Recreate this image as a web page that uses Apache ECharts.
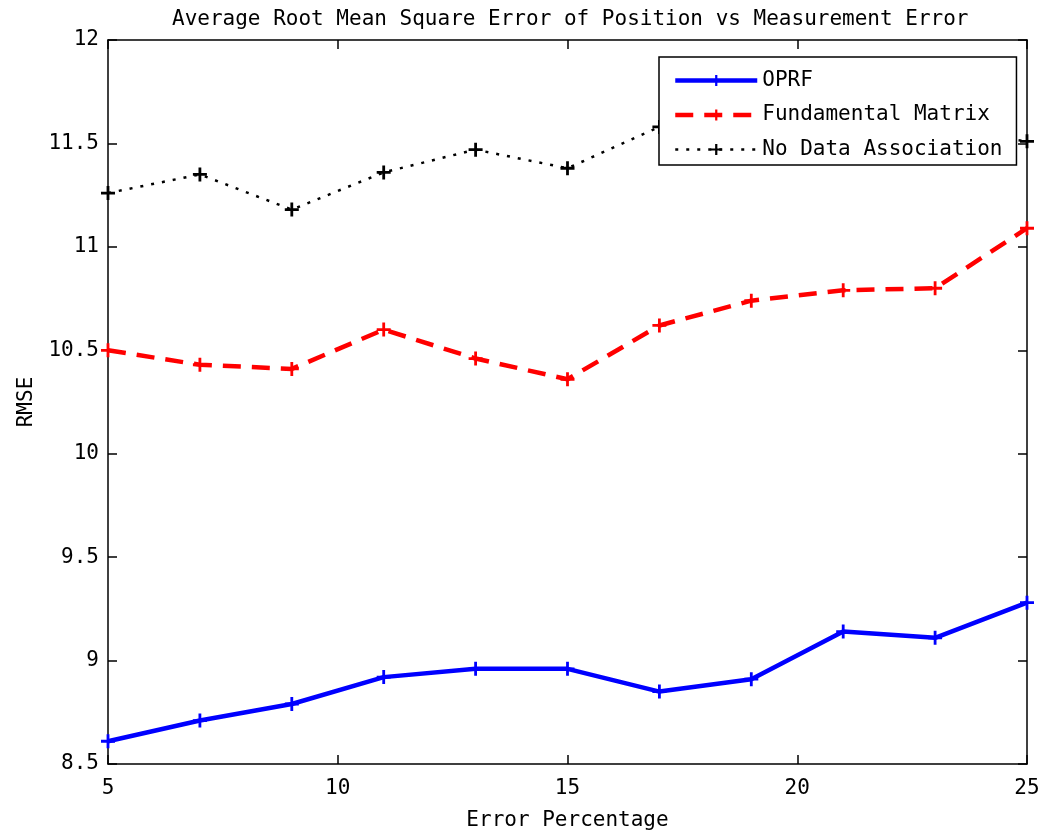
<!DOCTYPE html>
<html><head><meta charset="utf-8">
<script src="https://cdn.jsdelivr.net/npm/echarts@6/dist/echarts.min.js"></script>
<style>html,body{margin:0;padding:0;background:#fff}#c{width:1043px;height:838px}</style>
</head><body><div id="c"></div>
<script>
const xValues = [5, 7, 9, 11, 13, 15, 17, 19, 21, 23, 25];
const oprf = [8.61, 8.71, 8.79, 8.92, 8.96, 8.96, 8.85, 8.91, 9.14, 9.11, 9.28];
const fundamental = [10.50, 10.43, 10.41, 10.60, 10.46, 10.36, 10.62, 10.74, 10.79, 10.80, 11.09];
const noAssoc = [11.26, 11.35, 11.18, 11.36, 11.47, 11.38, 11.58, 11.63, 11.70, 11.57, 11.51];
const seriesNames = ['OPRF', 'Fundamental Matrix', 'No Data Association'];
const xTicks = [5, 10, 15, 20, 25];
const yTicks = [8.5, 9, 9.5, 10, 10.5, 11, 11.5, 12];

const FONT = 'DejaVu Sans Mono';
const plus = 'path://M4,0H6V4H10V6H6V10H4V6H0V4H4Z';
const pair = arr => xValues.map((x, i) => [x, arr[i]]);
const lineWidths = [4.5, 4.5, 2.5];

const axisCommon = {
  axisLine: {show: true, onZero: false, lineStyle: {color: '#000', width: 1.5}},
  axisTick: {show: true, inside: true, length: 9, lineStyle: {color: '#000', width: 1.5}},
  splitLine: {show: false}
};

const chart = echarts.init(document.getElementById('c'), null, {renderer: 'canvas'});
chart.setOption({
  backgroundColor: '#fff',
  animation: false,
  title: {
    text: 'Average Root Mean Square Error of Position vs Measurement Error',
    left: 167, top: 4,
    textStyle: {fontFamily: FONT, fontSize: 21, fontWeight: 'normal', color: '#000'}
  },
  grid: {left: 108, right: 16, top: 40, bottom: 74},
  legend: {
    left: 659, top: 57,
    orient: 'vertical',
    data: seriesNames.map((n, i) => ({name: n, lineStyle: {width: lineWidths[i]}})),
    itemWidth: 82, itemHeight: 14, itemGap: 13.5,
    padding: [13, 14, 5, 14],
    backgroundColor: '#fff',
    borderColor: '#000', borderWidth: 1.5, borderRadius: 0,
    textStyle: {fontFamily: FONT, fontSize: 21, color: '#000'}
  },
  xAxis: [
    Object.assign({
      type: 'value', min: 5, max: 25, interval: 5, position: 'bottom',
      name: 'Error Percentage', nameLocation: 'middle', nameGap: 46,
      nameTextStyle: {fontFamily: FONT, fontSize: 21, color: '#000'},
      axisLabel: {fontFamily: FONT, fontSize: 21, color: '#000', margin: 14,
        formatter: v => xTicks.includes(v) ? String(v) : ''}
    }, axisCommon),
    Object.assign({
      type: 'value', min: 5, max: 25, interval: 5, position: 'top',
      axisLabel: {show: false}
    }, axisCommon)
  ],
  yAxis: [
    Object.assign({
      type: 'value', min: 8.5, max: 12, interval: 0.5, position: 'left',
      name: 'RMSE', nameLocation: 'middle', nameGap: 71, nameRotate: 90,
      nameTextStyle: {fontFamily: FONT, fontSize: 21, color: '#000'},
      axisLabel: {fontFamily: FONT, fontSize: 21, color: '#000', margin: 9,
        formatter: v => yTicks.includes(v) ? String(v) : ''}
    }, axisCommon),
    Object.assign({
      type: 'value', min: 8.5, max: 12, interval: 0.5, position: 'right',
      axisLabel: {show: false}
    }, axisCommon)
  ],
  series: [
    {
      name: seriesNames[0], type: 'line', data: pair(oprf),
      symbol: plus, symbolSize: 14, z: 3,
      lineStyle: {color: '#0000ff', width: lineWidths[0], type: 'solid'},
      itemStyle: {color: '#0000ff'}
    },
    {
      name: seriesNames[1], type: 'line', data: pair(fundamental),
      symbol: plus, symbolSize: 14, z: 3,
      lineStyle: {color: '#ff0000', width: lineWidths[1], type: [18, 11]},
      itemStyle: {color: '#ff0000'}
    },
    {
      name: seriesNames[2], type: 'line', data: pair(noAssoc),
      symbol: plus, symbolSize: 14, z: 3,
      lineStyle: {color: '#000', width: lineWidths[2], type: [3, 8]},
      itemStyle: {color: '#000'}
    }
  ]
});
</script></body></html>
